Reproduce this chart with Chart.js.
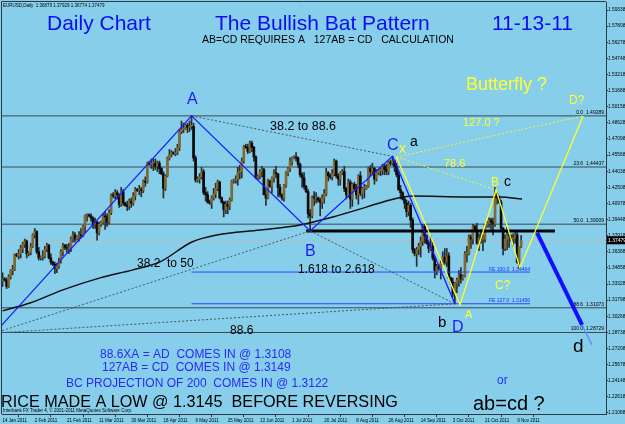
<!DOCTYPE html>
<html><head><meta charset="utf-8">
<script src="https://cdn.jsdelivr.net/npm/chart.js@4.4.0/dist/chart.umd.min.js"></script>
<style>html,body{margin:0;padding:0;background:#87ceeb;}canvas{display:block;}</style>
</head><body>
<canvas id="c" width="625" height="424"></canvas>
<script>
// ---------- axis labels ----------
const xTickPos = [0,16,32,48,64,80,96,112,128,144,160,176,192,208,224,240,256];
const xTickLabels = ['14 Jan 2011','2 Feb 2011','21 Feb 2011','11 Mar 2011','30 Mar 2011','18 Apr 2011','6 May 2011','25 May 2011','13 Jun 2011','1 Jul 2011','20 Jul 2011','8 Aug 2011','26 Aug 2011','14 Sep 2011','3 Oct 2011','21 Oct 2011','9 Nov 2011'];
const yTicks = [1.59338,1.57808,1.56278,1.54748,1.53218,1.51688,1.50158,1.48628,1.47098,1.45568,1.44038,1.42508,1.40978,1.39448,1.37918,1.36388,1.34858,1.33328,1.31798,1.30268,1.28738,1.27208,1.25678,1.24148,1.22618,1.21088];

// ---------- EURUSD daily candles (Sun-Fri bars, 14 Jan 2011 .. 11 Nov 2011) ----------
const opens = [
1.3360,1.3380,1.3370,1.3310,1.3400,1.3460,1.3470,
1.3610,1.3600,1.3620,1.3670,1.3710,1.3740,
1.3620,1.3630,1.3690,1.3800,1.3830,1.3640,
1.3580,1.3590,1.3600,1.3660,1.3700,1.3580,
1.3540,1.3520,1.3480,1.3500,1.3550,1.3640,
1.3700,1.3680,1.3670,1.3670,1.3760,1.3800,
1.3760,1.3780,1.3800,1.3790,1.3880,1.3980,
1.3990,1.3980,1.3960,1.3900,1.3920,1.3820,
1.3900,1.3920,1.3980,1.3970,1.3920,1.4010,
1.4180,1.4170,1.4200,1.4180,1.4090,1.4210,
1.4100,1.4080,1.4070,1.4120,1.4100,1.4170,
1.4230,1.4220,1.4230,1.4220,1.4310,1.4300,
1.4480,1.4470,1.4480,1.4480,1.4450,1.4480,
1.4430,1.4380,1.4240,1.4360,1.4530,1.4560,
1.4580,1.4570,1.4580,1.4630,1.4780,1.4800,
1.4810,1.4840,1.4820,1.4830,1.4830,1.4530,
1.4320,1.4330,1.4350,1.4400,1.4200,1.4180,
1.4110,1.4100,1.4150,1.4190,1.4240,1.4300,
1.4150,1.4110,1.4040,1.4090,1.4070,1.4130,
1.4310,1.4320,1.4330,1.4390,1.4400,1.4500,
1.4640,1.4630,1.4590,1.4670,1.4630,1.4540,
1.4340,1.4360,1.4400,1.4420,1.4180,1.4150,
1.4310,1.4260,1.4340,1.4390,1.4380,1.4250,
1.4180,1.4150,1.4270,1.4390,1.4430,1.4500,
1.4530,1.4540,1.4530,1.4470,1.4370,1.4340,
1.4260,1.4210,1.4000,1.3980,1.4160,1.4150,
1.4150,1.4130,1.4110,1.4150,1.4190,1.4390,
1.4360,1.4350,1.4380,1.4500,1.4360,1.4330,
1.4390,1.4400,1.4240,1.4180,1.4300,1.4140,
1.4280,1.4240,1.4180,1.4360,1.4190,1.4240,
1.4240,1.4260,1.4430,1.4400,1.4430,1.4330,
1.4390,1.4410,1.4410,1.4450,1.4420,1.4400,
1.4490,1.4480,1.4500,1.4450,1.4370,1.4230,
1.4200,1.4140,1.4100,1.4020,1.4080,1.3940,
1.3660,1.3620,1.3660,1.3690,1.3740,1.3880,
1.3790,1.3720,1.3670,1.3690,1.3580,1.3460,
1.3500,1.3480,1.3530,1.3590,1.3540,1.3600,
1.3390,1.3350,1.3240,1.3340,1.3370,1.3420,
1.3380,1.3410,1.3620,1.3620,1.3780,1.3760,
1.3880,1.3850,1.3720,1.3770,1.3760,1.3760,
1.3890,1.3910,1.3940,1.3920,1.3900,1.4190,
1.4150,1.4110,1.3860,1.3670,1.3760,1.3800,
1.3790,1.3760,1.3770,1.3800,1.3540,1.3688];
const highs = [
1.3440,1.3395,1.3390,1.3420,1.3470,1.3510,1.3620,
1.3625,1.3660,1.3700,1.3730,1.3760,1.3750,
1.3640,1.3720,1.3810,1.3860,1.3840,1.3680,
1.3600,1.3650,1.3690,1.3720,1.3710,1.3620,
1.3550,1.3540,1.3530,1.3580,1.3660,1.3720,
1.3710,1.3710,1.3720,1.3780,1.3830,1.3820,
1.3790,1.3830,1.3860,1.3890,1.3990,1.4000,
1.4000,1.4000,1.3970,1.3960,1.3930,1.3920,
1.3930,1.4000,1.4020,1.4000,1.4040,1.4190,
1.4200,1.4230,1.4220,1.4190,1.4250,1.4230,
1.4110,1.4120,1.4140,1.4150,1.4200,1.4250,
1.4240,1.4270,1.4250,1.4320,1.4350,1.4490,
1.4500,1.4520,1.4520,1.4520,1.4500,1.4500,
1.4440,1.4400,1.4370,1.4540,1.4610,1.4600,
1.4590,1.4620,1.4660,1.4800,1.4880,1.4860,
1.4850,1.4860,1.4880,1.4930,1.4860,1.4550,
1.4350,1.4380,1.4440,1.4420,1.4250,1.4210,
1.4130,1.4170,1.4240,1.4290,1.4320,1.4310,
1.4160,1.4120,1.4120,1.4120,1.4150,1.4320,
1.4330,1.4360,1.4440,1.4460,1.4530,1.4650,
1.4660,1.4660,1.4690,1.4690,1.4640,1.4550,
1.4370,1.4420,1.4450,1.4430,1.4230,1.4330,
1.4320,1.4350,1.4420,1.4450,1.4380,1.4280,
1.4190,1.4280,1.4400,1.4440,1.4530,1.4540,
1.4550,1.4580,1.4540,1.4480,1.4390,1.4390,
1.4270,1.4230,1.4040,1.4170,1.4210,1.4200,
1.4160,1.4150,1.4180,1.4230,1.4430,1.4400,
1.4380,1.4420,1.4520,1.4510,1.4380,1.4400,
1.4420,1.4450,1.4250,1.4330,1.4320,1.4290,
1.4300,1.4280,1.4370,1.4400,1.4250,1.4280,
1.4270,1.4440,1.4460,1.4480,1.4440,1.4420,
1.4420,1.4440,1.4470,1.4470,1.4470,1.4500,
1.4510,1.4545,1.4510,1.4480,1.4400,1.4270,
1.4210,1.4160,1.4130,1.4120,1.4100,1.3960,
1.3670,1.3680,1.3720,1.3780,1.3900,1.3900,
1.3800,1.3740,1.3790,1.3730,1.3600,1.3520,
1.3520,1.3560,1.3640,1.3670,1.3670,1.3630,
1.3400,1.3390,1.3350,1.3390,1.3460,1.3490,
1.3420,1.3640,1.3690,1.3800,1.3800,1.3900,
1.3890,1.3910,1.3810,1.3850,1.3800,1.3900,
1.3930,1.3960,1.3960,1.3960,1.4248,1.4200,
1.4170,1.4130,1.3870,1.3800,1.3870,1.3840,
1.3800,1.3810,1.3840,1.3820,1.3640,1.3793];
const lows = [
1.3310,1.3360,1.3290,1.3300,1.3380,1.3420,1.3460,
1.3590,1.3570,1.3580,1.3630,1.3680,1.3580,
1.3600,1.3610,1.3680,1.3770,1.3620,1.3560,
1.3560,1.3560,1.3580,1.3640,1.3570,1.3520,
1.3510,1.3430,1.3440,1.3480,1.3530,1.3600,
1.3660,1.3630,1.3620,1.3640,1.3730,1.3730,
1.3750,1.3740,1.3770,1.3780,1.3820,1.3930,
1.3970,1.3930,1.3860,1.3860,1.3750,1.3800,
1.3880,1.3900,1.3850,1.3880,1.3900,1.3990,
1.4150,1.4140,1.4140,1.4060,1.4070,1.4080,
1.4070,1.4030,1.4040,1.4060,1.4080,1.4130,
1.4210,1.4180,1.4160,1.4200,1.4260,1.4290,
1.4460,1.4430,1.4410,1.4420,1.4400,1.4380,
1.4370,1.4150,1.4220,1.4350,1.4510,1.4540,
1.4560,1.4550,1.4560,1.4600,1.4760,1.4770,
1.4800,1.4770,1.4780,1.4800,1.4500,1.4300,
1.4300,1.4290,1.4330,1.4180,1.4120,1.4100,
1.4090,1.4050,1.4130,1.4150,1.4220,1.4140,
1.4100,1.3970,1.4000,1.4000,1.4040,1.4120,
1.4290,1.4290,1.4270,1.4330,1.4340,1.4480,
1.4620,1.4570,1.4580,1.4590,1.4500,1.4330,
1.4320,1.4330,1.4350,1.4180,1.4080,1.4140,
1.4250,1.4200,1.4300,1.4340,1.4160,1.4160,
1.4130,1.4120,1.4250,1.4360,1.4400,1.4460,
1.4520,1.4500,1.4440,1.4350,1.4250,1.4230,
1.4200,1.3960,1.3837,1.3960,1.4080,1.4100,
1.4110,1.3980,1.4050,1.4100,1.4170,1.4310,
1.4330,1.4320,1.4360,1.4340,1.4270,1.4270,
1.4370,1.4210,1.4140,1.4160,1.4050,1.4070,
1.4220,1.4140,1.4090,1.4170,1.4140,1.4150,
1.4230,1.4250,1.4360,1.4380,1.4280,1.4310,
1.4370,1.4360,1.4370,1.4370,1.4370,1.4370,
1.4460,1.4460,1.4400,1.4350,1.4220,1.4140,
1.4130,1.4050,1.3970,1.3980,1.3870,1.3630,
1.3600,1.3500,1.3610,1.3590,1.3700,1.3720,
1.3710,1.3630,1.3650,1.3560,1.3390,1.3420,
1.3460,1.3380,1.3510,1.3520,1.3500,1.3380,
1.3330,1.3210,1.3145,1.3250,1.3310,1.3340,
1.3370,1.3400,1.3540,1.3610,1.3670,1.3710,
1.3830,1.3710,1.3650,1.3720,1.3650,1.3730,
1.3870,1.3870,1.3850,1.3800,1.3880,1.4090,
1.4100,1.3850,1.3610,1.3650,1.3660,1.3680,
1.3740,1.3690,1.3720,1.3530,1.3484,1.3677];
const closes = [
1.3380,1.3370,1.3310,1.3400,1.3460,1.3470,1.3610,
1.3600,1.3620,1.3670,1.3710,1.3740,1.3620,
1.3630,1.3690,1.3800,1.3830,1.3640,1.3580,
1.3590,1.3600,1.3660,1.3700,1.3580,1.3540,
1.3520,1.3480,1.3500,1.3550,1.3640,1.3700,
1.3680,1.3670,1.3670,1.3760,1.3800,1.3760,
1.3780,1.3800,1.3790,1.3880,1.3980,1.3990,
1.3980,1.3960,1.3900,1.3920,1.3820,1.3900,
1.3920,1.3980,1.3970,1.3920,1.4010,1.4180,
1.4170,1.4200,1.4180,1.4090,1.4210,1.4100,
1.4080,1.4070,1.4120,1.4100,1.4170,1.4230,
1.4220,1.4230,1.4220,1.4310,1.4300,1.4480,
1.4470,1.4480,1.4480,1.4450,1.4480,1.4430,
1.4380,1.4240,1.4360,1.4530,1.4560,1.4580,
1.4570,1.4580,1.4630,1.4780,1.4800,1.4810,
1.4840,1.4820,1.4830,1.4830,1.4530,1.4320,
1.4330,1.4350,1.4400,1.4200,1.4180,1.4110,
1.4100,1.4150,1.4190,1.4240,1.4300,1.4150,
1.4110,1.4040,1.4090,1.4070,1.4130,1.4310,
1.4320,1.4330,1.4390,1.4400,1.4500,1.4640,
1.4630,1.4590,1.4670,1.4630,1.4540,1.4340,
1.4360,1.4400,1.4420,1.4180,1.4150,1.4310,
1.4260,1.4340,1.4390,1.4380,1.4250,1.4180,
1.4150,1.4270,1.4390,1.4430,1.4500,1.4530,
1.4540,1.4530,1.4470,1.4370,1.4340,1.4260,
1.4210,1.4000,1.3980,1.4160,1.4150,1.4150,
1.4130,1.4110,1.4150,1.4190,1.4390,1.4360,
1.4350,1.4380,1.4500,1.4360,1.4330,1.4390,
1.4400,1.4240,1.4180,1.4300,1.4140,1.4280,
1.4240,1.4180,1.4360,1.4190,1.4240,1.4240,
1.4260,1.4430,1.4400,1.4430,1.4330,1.4390,
1.4410,1.4410,1.4450,1.4420,1.4400,1.4490,
1.4480,1.4500,1.4450,1.4370,1.4230,1.4200,
1.4140,1.4100,1.4020,1.4080,1.3940,1.3660,
1.3620,1.3660,1.3690,1.3740,1.3880,1.3790,
1.3720,1.3670,1.3690,1.3580,1.3460,1.3500,
1.3480,1.3530,1.3590,1.3540,1.3600,1.3390,
1.3350,1.3240,1.3340,1.3370,1.3420,1.3380,
1.3410,1.3620,1.3620,1.3780,1.3760,1.3880,
1.3850,1.3720,1.3770,1.3760,1.3760,1.3890,
1.3910,1.3940,1.3920,1.3900,1.4190,1.4150,
1.4110,1.3860,1.3670,1.3760,1.3800,1.3790,
1.3760,1.3770,1.3800,1.3540,1.3688,1.3748];

// ---------- 200 period moving average (read points) ----------
const maIdx = [0, 13.6, 30, 48.5, 64.9, 78.3, 94.2, 106.7, 128.1, 148, 164.4, 181.3, 192.7, 204.2, 231.1, 247.5, 258.4];
const maVal = [1.3078,1.3153,1.3277,1.3391,1.3467,1.3543,1.3732,1.3799,1.3846,1.3894,1.3970,1.4065,1.4131,1.4169,1.4160,1.4160,1.4140];

// ---------- harmonic pattern points (bar index, price) ----------
const batIdx = [-4, 94, 153, 194, 225];            // X A B C D (blue bat)
const batPrice = [1.2867, 1.4929, 1.3837, 1.4545, 1.3145];
const flyIdx = [196, 227.6, 245.5, 257.4, 288.8];  // X A B C D? (yellow butterfly)
const flyPrice = [1.4539, 1.3134, 1.4226, 1.3486, 1.4928];
const projIdx = [265.9, 288.3, 293.2];              // ab=cd projection
const projPrice = [1.3818, 1.2945, 1.2755];

// ---------- levels ----------
const fibNames = ['0.0','23.6','50.0','88.6','100.0'];
const fibLevels = [1.49289, 1.44437, 1.39009, 1.31073, 1.28729];
const feNames = ['100.0','127.0'];
const feLevels = [1.34464, 1.31456];
const bidPrice = 1.37479;
const supportLevel = 1.3837;

// ---------- rendering ----------
const F = '"Liberation Sans", Arial, sans-serif';
const XMIN = -0.3, XMAX = 300.2;
const pts = (xs, ys) => xs.map((x, i) => ({x, y: ys[i]}));
const seg = (i, j, xs, ys) => [{x: xs[i], y: ys[i]}, {x: xs[j], y: ys[j]}];
const hl = (lvl, x0, x1) => [{x: x0, y: lvl}, {x: x1, y: lvl}];
const L = (data, color, width, order, extra) => Object.assign({type: 'line', data, borderColor: color, borderWidth: width, pointRadius: 0, fill: false, tension: 0, order, clip: 0}, extra || {});
const dot = {borderDash: [2, 2]};

const datasets = [
  L(pts(batIdx, batPrice), '#1a1aff', 1.3, 1),
  L(pts(flyIdx, flyPrice), '#ffff2e', 1.3, 1),
  L(seg(0, 1, projIdx, projPrice), '#1010ff', 4, 1),
  L(seg(1, 2, projIdx, projPrice), '#5f92ff', 1.5, 1),
  L(seg(1, 3, batIdx, batPrice), '#4a5560', 1, 2, dot),
  L(seg(0, 2, batIdx, batPrice), '#4a5560', 1, 2, dot),
  L(seg(0, 4, batIdx, batPrice), '#4a5560', 1, 2, dot),
  L(seg(2, 4, batIdx, batPrice), '#4a5560', 1, 2, dot),
  L(seg(0, 2, flyIdx, flyPrice), '#f4f43a', 1, 2, dot),
  L(seg(0, 4, flyIdx, flyPrice), '#f4f43a', 1, 2, dot),
  L(pts(maIdx, maVal), '#101010', 1.5, 3, {tension: 0.4, cubicInterpolationMode: 'monotone'}),
  L(hl(supportLevel, batIdx[2] - 2, 274.8), '#050505', 3, 3),
  ...feLevels.map(l => L(hl(l, batIdx[1], 262.4), '#2a46ff', 1, 3)),
  {type: 'bar', data: closes.map((c, i) => ({x: i, y: [opens[i], c]})), grouped: false, barThickness: 2, minBarLength: 1,
   backgroundColor: ctx => (closes[ctx.dataIndex] >= opens[ctx.dataIndex] ? '#806a33' : '#0a0a0a'), order: 4},
  {type: 'bar', data: closes.map((c, i) => ({x: i, y: [lows[i], highs[i]]})), grouped: false, barThickness: 1,
   backgroundColor: '#2c2c2c', order: 5},
  ...fibLevels.map(l => L(hl(l, XMIN - 5, XMAX + 5), '#3b4853', 1, 6)),
  L(hl(bidPrice, XMIN - 5, XMAX + 5), '#b4bcc4', 1, 6)
];

const notes = [
  ['EURUSD,Daily  1.36879 1.37929 1.36774 1.37479', 3, 7, 4.5, '#000'],
  ['Daily Chart', 47, 30, 21, '#0c0cf4'],
  ['The Bullish Bat Pattern', 215, 30, 21, '#0c0cf4'],
  ['11-13-11', 492, 30, 21, '#0c0cf4'],
  ['AB=CD REQUIRES A   127AB = CD   CALCULATION', 202, 43, 10.5, '#000'],
  ['Butterfly ?', 466, 90, 18, '#ffff2e'],
  ['D?', 569, 104, 12, '#ffff2e'],
  ['127.0 ?', 463, 126, 11, '#ffff2e'],
  ['78.6', 444, 167, 11, '#ffff2e'],
  ['B', 491, 186, 12, '#ffff2e'],
  ['c', 504, 186, 14, '#000'],
  ['C?', 495, 289, 12, '#ffff2e'],
  ['A', 465, 318, 11, '#ffff2e'],
  ['b', 438, 327, 15, '#000'],
  ['D', 452, 332, 16, '#1a1aff'],
  ['C', 387, 150, 16, '#1a1aff'],
  ['x', 399, 153, 14, '#ffff2e'],
  ['a', 410, 146, 14, '#000'],
  ['A', 187, 104, 16, '#1a1aff'],
  ['B', 305, 256, 16, '#1a1aff'],
  ['38.2 to 88.6', 270, 130, 12.5, '#000'],
  ['38.2  to 50', 137, 267, 12, '#000'],
  ['1.618 to 2.618', 298, 273, 12, '#000'],
  ['88.6', 230, 334, 12, '#000'],
  ['88.6XA = AD  COMES IN @ 1.3108', 100, 358, 12, '#2a2af8'],
  ['127AB = CD  COMES IN @ 1.3149', 102, 371, 12, '#2a2af8'],
  ['BC PROJECTION OF 200  COMES IN @ 1.3122', 66, 387, 12, '#2a2af8'],
  ['RICE MADE A LOW @ 1.3145  BEFORE REVERSING', 1, 407, 16.2, '#000'],
  ['Interbank FX Trader 4, \u00a9 2001-2011 MetaQuotes Software Corp.', 3, 412, 4.5, '#000'],
  ['or', 497, 384, 12, '#2a2af8'],
  ['ab=cd ?', 473, 410, 20, '#000'],
  ['d', 573, 352, 19, '#000']
];

const plugins = [{
  id: 'bg',
  beforeDraw(chart) {
    const c = chart.ctx; c.save(); c.fillStyle = '#87ceeb'; c.fillRect(0, 0, chart.width, chart.height); c.restore();
  },
  afterDatasetsDraw(chart) {
    const c = chart.ctx, ys = chart.scales.y, xs = chart.scales.x, a = chart.chartArea;
    c.save();
    c.font = `5px ${F}`; c.fillStyle = '#000'; c.textAlign = 'right'; c.textBaseline = 'alphabetic';
    fibLevels.forEach((l, k) => c.fillText(`${fibNames[k]}  ${l.toFixed(5)}`, a.right - 2, ys.getPixelForValue(l) - 2));
    c.fillStyle = '#1530ff';
    feLevels.forEach((l, k) => c.fillText(`FE ${feNames[k]}  ${l.toFixed(5)}`, xs.getPixelForValue(262.4), ys.getPixelForValue(l) - 1.5));
    c.textAlign = 'left';
    for (const [t, x, y, s, col] of notes) { c.font = `${s}px ${F}`; c.fillStyle = col; c.fillText(t, x, y); }
    c.restore();
  },
  afterDraw(chart) {
    const c = chart.ctx, ys = chart.scales.y, a = chart.chartArea;
    c.save();
    c.strokeStyle = '#2c3a46'; c.lineWidth = 1;
    c.beginPath(); c.moveTo(a.left - 0.5, a.bottom); c.lineTo(a.left - 0.5, a.top - 0.5); c.lineTo(a.right, a.top - 0.5); c.stroke();
    const py = ys.getPixelForValue(bidPrice);
    c.fillStyle = '#000'; c.fillRect(a.right + 1, py - 4, 19, 8);
    c.fillStyle = '#fff'; c.font = `5px ${F}`; c.textBaseline = 'middle'; c.textAlign = 'left';
    c.fillText(bidPrice.toFixed(5), a.right + 2, py);
    c.restore();
  }
}];

new Chart(document.getElementById('c'), {
  type: 'line',
  data: {datasets},
  plugins,
  options: {
    responsive: false, animation: false, devicePixelRatio: 1,
    layout: {padding: {left: 2, top: 2, right: 0, bottom: 0}},
    plugins: {legend: {display: false}, tooltip: {enabled: false}},
    elements: {point: {radius: 0}},
    scales: {
      x: {
        type: 'linear', min: XMIN, max: XMAX, offset: false,
        grid: {drawOnChartArea: false, drawTicks: true, tickLength: 3, color: '#2c3a46'},
        border: {display: true, color: '#2c3a46'},
        ticks: {autoSkip: false, maxRotation: 0, align: 'start', padding: 1, color: '#000', font: {family: F, size: 4.5},
          callback: v => { const k = xTickPos.indexOf(v); return k >= 0 ? xTickLabels[k] : ''; }},
        afterBuildTicks: s => { s.ticks = xTickPos.map(v => ({value: v})); },
        afterFit: s => { s.height = 10; s.paddingLeft = 0; s.paddingRight = 0; }
      },
      y: {
        type: 'linear', position: 'right', min: 1.2099, max: 1.6010,
        grid: {drawOnChartArea: false, drawTicks: true, tickLength: 2, color: '#2c3a46'},
        border: {display: true, color: '#2c3a46'},
        ticks: {autoSkip: false, padding: 0, color: '#000', font: {family: F, size: 4.8},
          callback: v => Number(v).toFixed(5)},
        afterBuildTicks: s => { s.ticks = yTicks.map(v => ({value: v})); },
        afterFit: s => { s.width = 19; s.paddingTop = 0; s.paddingBottom = 0; }
      }
    }
  }
});
</script>
</body></html>
